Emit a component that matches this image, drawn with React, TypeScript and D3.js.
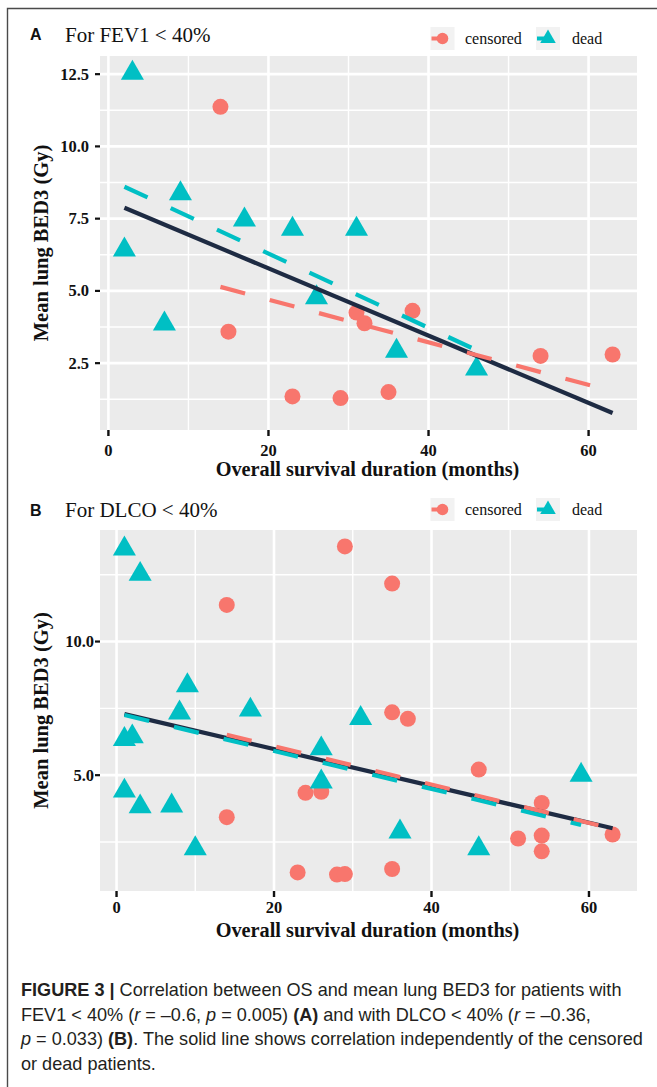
import React from "react";
import * as d3 from "d3";

// Panel A: FEV1 < 40%  (months, mean lung BED3 in Gy)
const aCensoredMonths = [14, 15, 23, 29, 31, 32, 35, 38, 54, 63];
const aCensoredBed = [11.37, 3.59, 1.35, 1.29, 4.25, 3.88, 1.5, 4.31, 2.75, 2.8];
const aDeadMonths = [2, 3, 7, 9, 17, 23, 26, 31, 36, 46];
const aDeadBed = [6.42, 12.54, 3.86, 8.37, 7.46, 7.14, 4.77, 7.14, 2.92, 2.3];

// Panel B: DLCO < 40%
const bCensoredMonths = [14, 14, 23, 24, 26, 28, 29, 29, 35, 35, 35, 37, 46, 51, 54, 54, 54, 63];
const bCensoredBed = [11.37, 3.43, 1.36, 4.34, 4.38, 1.28, 13.56, 1.3, 12.17, 7.35, 1.49, 7.11, 5.21, 2.63, 3.96, 2.74, 2.15, 2.78];
const bDeadMonths = [1, 3, 9, 8, 17, 31, 1, 2, 1, 3, 7, 10, 26, 26, 36, 46, 59];
const bDeadBed = [13.47, 12.52, 8.35, 7.33, 7.44, 7.13, 6.34, 6.44, 4.41, 3.82, 3.85, 2.25, 5.99, 4.75, 2.88, 2.25, 5.0];

const xTicks = [0, 20, 40, 60];
const xMinor = [10, 30, 50];
const aYTicks = [2.5, 5, 7.5, 10, 12.5];
const aYMinor = [1.25, 3.75, 6.25, 8.75, 11.25];
const bYTicks = [5, 10];
const bYMinor = [2.5, 7.5, 12.5];
const legendLabels = ["censored", "dead"];

const RED = "#F8766D";
const TEAL = "#00BFC4";
const NAVY = "#1E2B43";
const SERIF = "'Liberation Serif', 'Times New Roman', serif";
const SANS = "'Liberation Sans', Arial, Helvetica, sans-serif";

const plotLeft = 100;
const plotRight = 637;

// least squares line over the x extent of the group (like geom_smooth(method = "lm"))
function fitLine(xs: number[], ys: number[]): [number, number][] {
  const mx = d3.mean(xs)!;
  const my = d3.mean(ys)!;
  let sxy = 0;
  let sxx = 0;
  xs.forEach((v, i) => {
    sxy += (v - mx) * (ys[i] - my);
    sxx += (v - mx) * (v - mx);
  });
  const slope = sxy / sxx;
  const icpt = my - slope * mx;
  const [x0, x1] = d3.extent(xs) as [number, number];
  return [
    [x0, icpt + slope * x0],
    [x1, icpt + slope * x1],
  ];
}

function expand([a, b]: [number, number]): [number, number] {
  const pad = (b - a) * 0.05;
  return [a - pad, b + pad];
}

interface PanelSpec {
  letter: string;
  title: string;
  censoredMonths: number[];
  censoredBed: number[];
  deadMonths: number[];
  deadBed: number[];
  yTicks: number[];
  yMinor: number[];
  top: number;
  bottom: number;
  headBaseline: number;
  legendTop: number;
  yLabelRight: number;
  xLabelBaseline: number;
  xTitleBaseline: number;
}

const triPath = (r: number) =>
  d3.symbol().type(d3.symbolTriangle).size(3 * Math.sqrt(3) * (r / 2) * (r / 2))() || "";

function ScatterPanel({ p }: { p: PanelSpec }) {
  const cLine = fitLine(p.censoredMonths, p.censoredBed);
  const dLine = fitLine(p.deadMonths, p.deadBed);
  const allX = [...p.censoredMonths, ...p.deadMonths];
  const allY = [...p.censoredBed, ...p.deadBed];
  const oLine = fitLine(allX, allY);

  const yVals = [...allY, ...cLine.map((d) => d[1]), ...dLine.map((d) => d[1]), ...oLine.map((d) => d[1])];
  const x = d3.scaleLinear().domain(expand(d3.extent(allX) as [number, number])).range([plotLeft, plotRight]);
  const y = d3.scaleLinear().domain(expand(d3.extent(yVals) as [number, number])).range([p.bottom, p.top]);

  const line = d3
    .line<[number, number]>()
    .x((d) => x(d[0]))
    .y((d) => y(d[1]));

  const tri = triPath(13.3);
  const keyTri = triPath(9);
  const fmt = d3.format(".1f");
  const midY = (p.top + p.bottom) / 2;
  const midX = (plotLeft + plotRight) / 2;
  const keyXs = [430.5, 536];
  const textXs = [465, 572];

  return (
    <g>
      {/* heading */}
      <text x={30} y={p.headBaseline - 1.5} fontFamily={SANS} fontWeight="bold" fontSize={16} fill="#111">
        {p.letter}
      </text>
      <text x={65} y={p.headBaseline} fontFamily={SERIF} fontSize={21} fill="#111">
        {p.title}
      </text>

      {/* legend */}
      {legendLabels.map((lab, i) => {
        const kx = keyXs[i];
        const cx = kx + 12;
        const cy = p.legendTop + 11.5;
        return (
          <g key={lab}>
            <rect x={kx} y={p.legendTop} width={24} height={23} fill="#F2F2F2" />
            <line x1={kx + 1} x2={cx} y1={cy} y2={cy} stroke={i === 0 ? RED : TEAL} strokeWidth={4} />
            {i === 0 ? (
              <circle cx={cx} cy={cy} r={5.8} fill={RED} />
            ) : (
              <path d={keyTri} transform={`translate(${cx},${cy})`} fill={TEAL} />
            )}
            <text x={textXs[i]} y={p.legendTop + 17} fontFamily={SERIF} fontSize={16} fill="#111">
              {lab}
            </text>
          </g>
        );
      })}

      {/* panel */}
      <rect x={plotLeft} y={p.top} width={plotRight - plotLeft} height={p.bottom - p.top} fill="#EBEBEB" />
      {p.yMinor.map((v) => (
        <line key={"ym" + v} x1={plotLeft} x2={plotRight} y1={y(v)} y2={y(v)} stroke="#fff" strokeWidth={1.4} />
      ))}
      {xMinor.map((v) => (
        <line key={"xm" + v} x1={x(v)} x2={x(v)} y1={p.top} y2={p.bottom} stroke="#fff" strokeWidth={1.4} />
      ))}
      {p.yTicks.map((v) => (
        <line key={"yM" + v} x1={plotLeft} x2={plotRight} y1={y(v)} y2={y(v)} stroke="#fff" strokeWidth={2.6} />
      ))}
      {xTicks.map((v) => (
        <line key={"xM" + v} x1={x(v)} x2={x(v)} y1={p.top} y2={p.bottom} stroke="#fff" strokeWidth={2.6} />
      ))}

      {/* points */}
      {p.censoredMonths.map((m, i) => (
        <circle key={"c" + i} cx={x(m)} cy={y(p.censoredBed[i])} r={8} fill={RED} />
      ))}
      {p.deadMonths.map((m, i) => (
        <path key={"d" + i} d={tri} transform={`translate(${x(m)},${y(p.deadBed[i])})`} fill={TEAL} />
      ))}

      {/* regression lines */}
      <path d={line(oLine) || ""} stroke={NAVY} strokeWidth={4.2} fill="none" />
      <path d={line(cLine) || ""} stroke={RED} strokeWidth={4.2} strokeDasharray="25.5 25.5" fill="none" />
      <path d={line(dLine) || ""} stroke={TEAL} strokeWidth={4.2} strokeDasharray="25.5 25.5" fill="none" />

      {/* y axis */}
      {p.yTicks.map((v) => (
        <g key={"yt" + v}>
          <line x1={plotLeft - 5} x2={plotLeft} y1={y(v)} y2={y(v)} stroke="#111" strokeWidth={2.2} />
          <text
            x={p.yLabelRight}
            y={y(v) + 5.5}
            textAnchor="end"
            fontFamily={SERIF}
            fontWeight="bold"
            fontSize={16.5}
            fill="#111"
          >
            {fmt(v)}
          </text>
        </g>
      ))}
      <text
        transform={`translate(48,${midY}) rotate(-90)`}
        textAnchor="middle"
        fontFamily={SERIF}
        fontWeight="bold"
        fontSize={20.5}
        fill="#111"
      >
        Mean lung BED3 (Gy)
      </text>

      {/* x axis */}
      {xTicks.map((v) => (
        <g key={"xt" + v}>
          <line x1={x(v)} x2={x(v)} y1={p.bottom} y2={p.bottom + 6} stroke="#111" strokeWidth={2.4} />
          <text x={x(v)} y={p.xLabelBaseline} textAnchor="middle" fontFamily={SERIF} fontWeight="bold" fontSize={16.5} fill="#111">
            {v}
          </text>
        </g>
      ))}
      <text x={midX - 1} y={p.xTitleBaseline} textAnchor="middle" fontFamily={SERIF} fontWeight="bold" fontSize={20.3} fill="#111">
        Overall survival duration (months)
      </text>
    </g>
  );
}

const panelA: PanelSpec = {
  letter: "A",
  title: "For FEV1 < 40%",
  censoredMonths: aCensoredMonths,
  censoredBed: aCensoredBed,
  deadMonths: aDeadMonths,
  deadBed: aDeadBed,
  yTicks: aYTicks,
  yMinor: aYMinor,
  top: 56,
  bottom: 430,
  headBaseline: 41.5,
  legendTop: 27,
  yLabelRight: 89,
  xLabelBaseline: 456,
  xTitleBaseline: 476,
};

const panelB: PanelSpec = {
  letter: "B",
  title: "For DLCO < 40%",
  censoredMonths: bCensoredMonths,
  censoredBed: bCensoredBed,
  deadMonths: bDeadMonths,
  deadBed: bDeadBed,
  yTicks: bYTicks,
  yMinor: bYMinor,
  top: 530,
  bottom: 891,
  headBaseline: 517,
  legendTop: 498,
  yLabelRight: 94,
  xLabelBaseline: 913,
  xTitleBaseline: 937,
};

export default function App() {
  const capSize = 18.1;
  const capX = 21;
  return (
    <svg
      width={657}
      height={1087}
      style={{ position: "absolute", left: 0, top: 0, background: "#fff" }}
    >
      <rect width={657} height={1087} fill="#fff" />
      <path d="M7.5,1087 V8.5 H657" fill="none" stroke="#4a4a4a" strokeWidth={1.4} />
      <ScatterPanel p={panelA} />
      <ScatterPanel p={panelB} />

      <g fontFamily={SANS} fontSize={capSize} fill="#231F20">
        <text x={capX} y={996}>
          <tspan fontWeight="bold">FIGURE 3 |</tspan> Correlation between OS and mean lung BED3 for patients with
        </text>
        <text x={capX} y={1020.5}>
          FEV1 {"<"} 40% (<tspan fontStyle="italic">r</tspan> = –0.6, <tspan fontStyle="italic">p</tspan> = 0.005){" "}
          <tspan fontWeight="bold">(A)</tspan> and with DLCO {"<"} 40% (<tspan fontStyle="italic">r</tspan> = –0.36,
        </text>
        <text x={capX} y={1045}>
          <tspan fontStyle="italic">p</tspan> = 0.033) <tspan fontWeight="bold">(B)</tspan>. The solid line shows
          correlation independently of the censored
        </text>
        <text x={capX} y={1069.5}>
          or dead patients.
        </text>
      </g>
    </svg>
  );
}
